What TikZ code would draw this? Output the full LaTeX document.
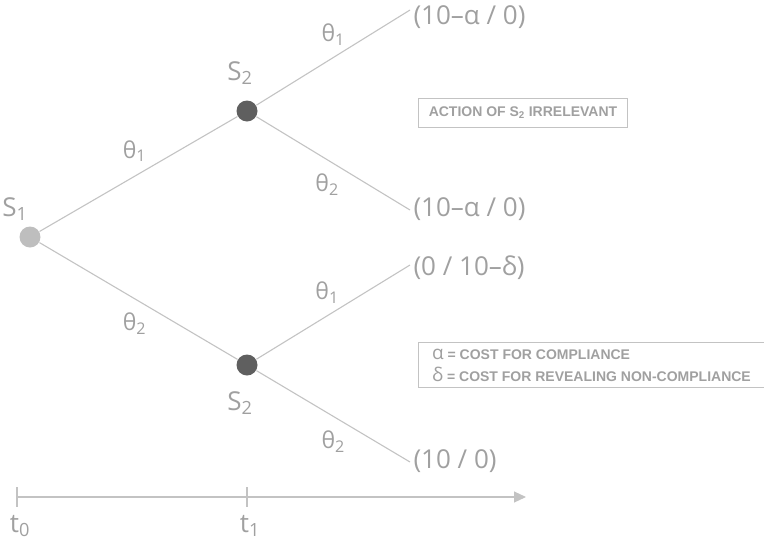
\documentclass[tikz,border=0pt]{standalone}
\usepackage{fontspec}
\setmainfont{Open Sans}
\newfontfamily\boxfont{Liberation Sans}
\usepackage{tikz}
\usetikzlibrary{arrows.meta, positioning}

\definecolor{linegray}{RGB}{195,195,195}
\definecolor{textgray}{RGB}{160,160,160}
\definecolor{darknode}{RGB}{95,95,95}
\definecolor{lightnode}{RGB}{190,190,190}

\begin{document}
\begin{tikzpicture}[x=1pt, y=-1pt, semithick, line width=1.1pt, draw=linegray, text=textgray,
  font=\fontsize{26}{30}\selectfont]
\tikzstyle{player}=[circle, inner sep=0pt, minimum size=21pt, draw=none]
\tikzstyle{payoff}=[anchor=west, inner sep=0pt]
\tikzstyle{lbl}=[inner sep=0pt]
\tikzstyle{theta}=[inner sep=0pt, font=\fontsize{23}{26}\selectfont]
\tikzstyle{notebox}=[draw=linegray, line width=1pt, inner sep=6pt, align=left,
  font=\boxfont\bfseries\fontsize{14}{22}\selectfont]

\useasboundingbox (0,0) rectangle (764,547);

% players
\node[player, fill=lightnode] (S1) at (30,237) {};
\node[player, fill=darknode] (S2a) at (247,111) {};
\node[player, fill=darknode] (S2b) at (247,365) {};

\node[lbl] at (15,209) {S\textsubscript{1}};
\node[lbl] at (240,73) {S\textsubscript{2}};
\node[lbl] at (240,403) {S\textsubscript{2}};

% outcomes
\coordinate (E1) at (410,10);
\coordinate (E2) at (410,210);
\coordinate (E3) at (410,265);
\coordinate (E4) at (410,462);
\node[payoff] (P1) at (413,17) {(10–α / 0)};
\node[payoff] (P2) at (413,209) {(10–α / 0)};
\node[payoff] (P3) at (413,268) {(0 / 10–δ)};
\node[payoff] (P4) at (413,461) {(10 / 0)};

% branches
\path[draw=linegray]
(S1)  edge node[theta, pos=0.48, above=14pt] {θ\textsubscript{1}} (S2a)
      edge node[theta, pos=0.48, below=14pt] {θ\textsubscript{2}} (S2b)
(S2a) edge node[theta, pos=0.5, above=12pt] {θ\textsubscript{1}} (E1)
      edge node[theta, pos=0.46, below=14pt] {θ\textsubscript{2}} (E2)
(S2b) edge node[theta, pos=0.46, above=12pt] {θ\textsubscript{1}} (E3)
      edge node[theta, pos=0.5, below=14pt] {θ\textsubscript{2}} (E4);

% notes
\node[notebox, anchor=north west, minimum width=209pt, minimum height=29pt] (N1) at (418,98)
  {ACTION OF S\textsubscript{2} IRRELEVANT};
\node[notebox, anchor=north west, minimum width=346pt, minimum height=45pt, inner sep=5pt] (N2) at (418,342)
  {{\mdseries\fontspec{Open Sans}\fontsize{19}{22}\selectfont α} = COST FOR COMPLIANCE\\
   {\mdseries\fontspec{Open Sans}\fontsize{19}{22}\selectfont δ} = COST FOR REVEALING NON-COMPLIANCE};

% time axis
\coordinate (T0) at (17,497);
\coordinate (T1) at (247,497);
\coordinate (Tend) at (526,497);
\draw[-{Triangle[length=12pt, width=11pt]}, draw=linegray, fill=linegray] (T0) -- (Tend);
\draw (17,487) -- (17,507);
\draw (247,487) -- (247,507);
\node[lbl] (t0) at (20,526) {t\textsubscript{0}};
\node[lbl] (t1) at (250,526) {t\textsubscript{1}};
\end{tikzpicture}
\end{document}
